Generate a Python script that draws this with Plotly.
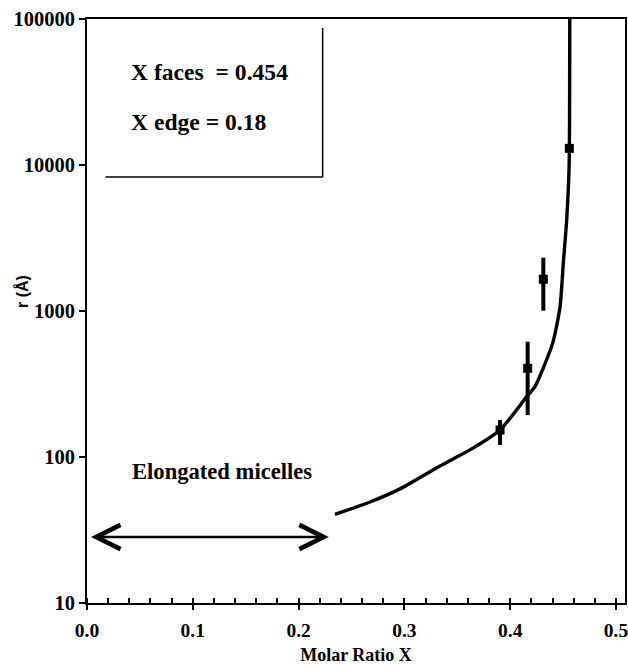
import math
import plotly.graph_objects as go

# Data
x_pts = [0.3904, 0.4165, 0.4313, 0.4559]
r_pts = [153, 405, 1650, 13000]
r_err_plus = [26, 211, 667, 0]
r_err_minus = [32, 211, 645, 0]

curve_x = [0.2344, 0.2675, 0.2958, 0.3336, 0.3648, 0.3904, 0.4156, 0.4234,
           0.4402, 0.4471, 0.4502, 0.4534, 0.4556, 0.4561, 0.4563]
curve_r = [40.5, 49.2, 60.5, 86.8, 115, 153, 259, 303,
           604, 1070, 2132, 4200, 9240, 20300, 100000]

arrow_x = [0.0024, 0.2285]
arrow_r = 28.3

y_tickvals = [10, 100, 1000, 10000, 100000]
y_ticktext = ["10", "100", "1000", "10000", "100000"]

SERIF = "Liberation Serif"
SANS = "Liberation Sans"
BLACK = "#000000"

fig = go.Figure()
fig.add_trace(go.Scatter(
    x=curve_x, y=curve_r, mode="lines",
    line=dict(color=BLACK, width=3.4, shape="spline", smoothing=0.6),
    showlegend=False, hoverinfo="skip"))
fig.add_trace(go.Scatter(
    x=x_pts, y=r_pts, mode="markers",
    marker=dict(symbol="square", size=9, color=BLACK),
    error_y=dict(type="data", array=r_err_plus, arrayminus=r_err_minus,
                 color=BLACK, thickness=4, width=0),
    showlegend=False))
# invisible trace on overlay axis (carries the inward-pointing major ticks)
fig.add_trace(go.Scatter(x=[0.25], y=[20], xaxis="x2", mode="markers",
                         marker=dict(opacity=0), showlegend=False, hoverinfo="skip"))

xr = [0, 0.5085]
fig.update_layout(
    width=628, height=665,
    margin=dict(l=87, r=3, t=19, b=62, autoexpand=False),
    paper_bgcolor="white", plot_bgcolor="white",
    font=dict(family=SERIF, color=BLACK),
    xaxis=dict(range=xr, tickmode="linear", tick0=0, dtick=0.1, tickformat=".1f",
               ticks="outside", ticklen=5, tickwidth=2, tickcolor=BLACK,
               ticklabelstandoff=4, automargin=False, ticklabeloverflow="allow",
               minor=dict(ticks="inside", tickmode="linear", tick0=0, dtick=0.02,
                          ticklen=5, tickwidth=2, tickcolor=BLACK, showgrid=False),
               showline=True, linecolor=BLACK, linewidth=2, mirror=True,
               showgrid=False, zeroline=False,
               tickfont=dict(family=SERIF, size=19.5, weight="bold", color=BLACK),
               title=dict(text="Molar Ratio X", standoff=10,
                          font=dict(family=SERIF, size=18, weight="bold", color=BLACK))),
    xaxis2=dict(range=xr, overlaying="x", anchor="y", side="bottom",
                tickmode="linear", tick0=0, dtick=0.1, automargin=False,
                ticks="inside", ticklen=5, tickwidth=2,
                tickcolor=BLACK, showticklabels=False, showgrid=False,
                zeroline=False, showline=False),
    yaxis=dict(type="log", range=[1, 5], tickmode="array",
               tickvals=y_tickvals, ticktext=y_ticktext, automargin=False,
               ticks="outside", ticklen=6, tickwidth=2, tickcolor=BLACK,
               showline=True, linecolor=BLACK, linewidth=2, mirror=True,
               showgrid=False, zeroline=False,
               tickfont=dict(family=SERIF, size=20.5, weight="bold", color=BLACK)),
)

# Text box frame lines
fig.add_shape(type="line", xref="paper", yref="paper",
              x0=0.438, x1=0.438, y0=0.7295, y1=0.9846,
              line=dict(color=BLACK, width=1.5))
fig.add_shape(type="line", xref="paper", yref="paper",
              x0=0.0344, x1=0.438, y0=0.7295, y1=0.7295,
              line=dict(color=BLACK, width=1.5))

fig.add_annotation(text="X faces&nbsp; = 0.454", xref="paper", yref="paper",
                   x=(129 - 87) / 538, y=(603 - 72) / 584, xanchor="left", yanchor="middle",
                   showarrow=False, font=dict(family=SERIF, size=23.6, weight="bold", color=BLACK))
fig.add_annotation(text="X edge = 0.18", xref="paper", yref="paper",
                   x=(129 - 87) / 538, y=(603 - 122) / 584, xanchor="left", yanchor="middle",
                   showarrow=False, font=dict(family=SERIF, size=23.6, weight="bold", color=BLACK))
fig.add_annotation(text="Elongated micelles", xref="paper", yref="paper",
                   x=(130 - 87) / 538, y=(603 - 471) / 584, xanchor="left", yanchor="middle",
                   showarrow=False, font=dict(family=SERIF, size=22.6, weight="bold", color=BLACK))
fig.add_annotation(text="r (Å)", xref="paper", yref="paper",
                   x=(22 - 87) / 538, y=(603 - 292) / 584, xanchor="center", yanchor="middle",
                   textangle=-90, showarrow=False,
                   font=dict(family=SANS, size=16, weight="bold", color=BLACK))

# Double-headed arrow
fig.add_annotation(x=arrow_x[1], y=math.log10(arrow_r),
                   ax=arrow_x[0], ay=math.log10(arrow_r),
                   xref="x", yref="y", axref="x", ayref="y",
                   text="", showarrow=True, arrowhead=5, startarrowhead=5,
                   arrowside="end+start", arrowsize=1.9, startarrowsize=1.9,
                   arrowwidth=2.5, arrowcolor=BLACK, standoff=0, startstandoff=0)

fig.write_html("out.html")
